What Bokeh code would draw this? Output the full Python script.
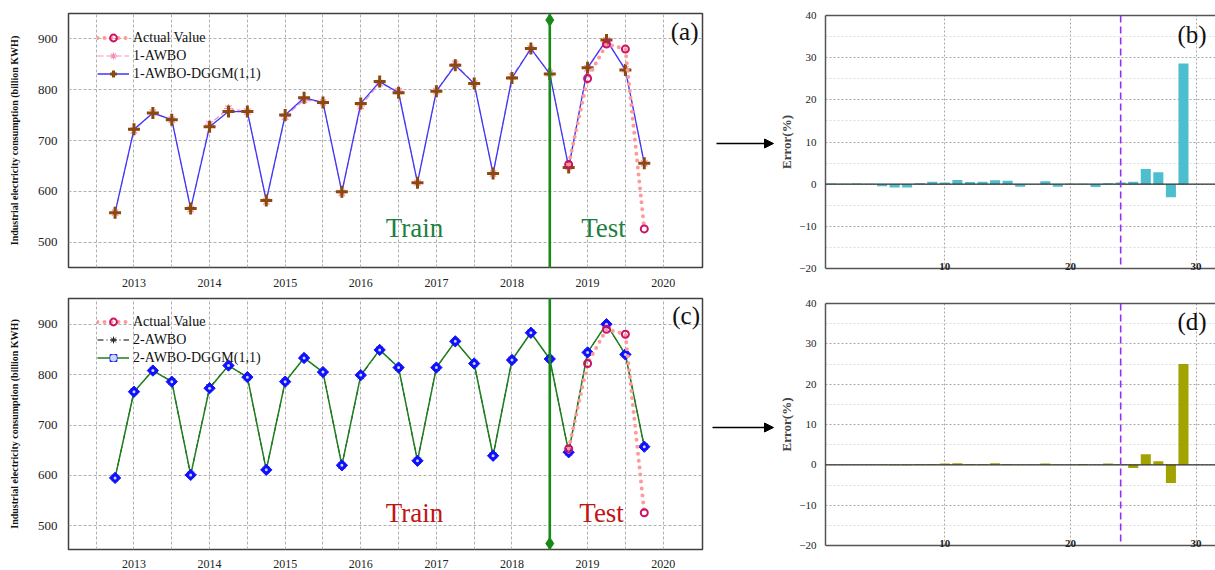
from bokeh.plotting import figure
from bokeh.models import (FixedTicker, Legend, LegendItem, Label, Arrow, NormalHead,
                          Span, LinearAxis, Range1d, BoxAnnotation)
from bokeh.layouts import row, column
from bokeh.embed import file_html
from bokeh.resources import INLINE

# ---------------- data ----------------
t = [2012.75, 2013.00, 2013.25, 2013.50, 2013.75, 2014.00, 2014.25, 2014.50,
     2014.75, 2015.00, 2015.25, 2015.50, 2015.75, 2016.00, 2016.25, 2016.50,
     2016.75, 2017.00, 2017.25, 2017.50, 2017.75, 2018.00, 2018.25, 2018.50,
     2018.75, 2019.00, 2019.25, 2019.50, 2019.75]
test_t = [2018.75, 2019.00, 2019.25, 2019.50, 2019.75]
actual_test = [653, 822, 890, 880, 526]

awbo1 = [558, 720, 755, 741, 565, 732, 763, 757, 580, 747, 780, 775, 597, 768, 813,
         797, 617, 797, 851, 812, 635, 826, 881, 832, 648, 842, 897, 840, 655]
dggm1 = [558, 722, 754, 741, 566, 727, 757, 757, 582, 750, 784, 775, 599, 773, 816,
         794, 617, 797, 848, 812, 635, 823, 881, 831, 647, 843, 898, 839, 655]
awbo2 = [595, 766, 809, 786, 601, 775, 818, 795, 611, 786, 833, 805, 620, 797, 849,
         814, 629, 814, 866, 822, 639, 829, 883, 831, 646, 844, 900, 840, 657]
dggm2 = [595, 766, 808, 786, 601, 773, 818, 795, 611, 786, 833, 805, 620, 799, 849,
         814, 629, 814, 866, 822, 639, 829, 883, 831, 646, 844, 900, 840, 657]

split_t = 2018.5
year_ticks = [2013, 2014, 2015, 2016, 2017, 2018, 2019, 2020]
halfyear_grid = [2012.5, 2013, 2013.5, 2014, 2014.5, 2015, 2015.5, 2016, 2016.5,
                 2017, 2017.5, 2018, 2018.5, 2019, 2019.5, 2020]
value_ticks = [500, 600, 700, 800, 900]

idx = [1, 2, 3, 4, 5, 6, 7, 8, 9, 10, 11, 12, 13, 14, 15, 16, 17, 18, 19, 20,
       21, 22, 23, 24, 25, 26, 27, 28, 29]
err1 = [0.15, 0.1, 0.15, 0.1, -0.5, -0.8, -0.8, 0.2, 0.6, 0.4, 1.0, 0.5, 0.6, 0.9, 0.8,
        -0.6, -0.1, 0.7, -0.6, 0.1, 0.1, -0.7, 0.2, 0.4, 0.6, 3.6, 2.8, -3.1, 28.6]
err2 = [0.1, 0.1, 0.1, 0.1, 0.1, -0.1, -0.1, 0.2, 0.2, 0.3, 0.4, 0.2, 0.2, 0.4, 0.2,
        0.1, 0.1, 0.3, 0.1, 0.1, 0.2, 0.1, 0.3, 0.2, -0.8, 2.6, 0.9, -4.5, 25.0]
split_idx = 24
err_ticks = [-20, -10, 0, 10, 20, 30, 40]
err_minor = [-15, -5, 5, 15, 25, 35]
idx_ticks = [10, 20, 30]

SERIF = "Liberation Serif"
GREEN = "#178a17"


def style_left(p, ylabel):
    p.outline_line_color = "#404040"
    p.outline_line_width = 1.5
    for ax in (p.xaxis, p.yaxis):
        ax.axis_line_color = None
        ax.major_tick_line_color = None
        ax.minor_tick_line_color = None
        ax.major_label_text_font = SERIF
        ax.major_label_text_color = "#222222"
    p.xaxis.ticker = FixedTicker(ticks=year_ticks)
    p.xaxis.major_label_text_font_size = "12px"
    p.xaxis.major_label_standoff = 5
    p.yaxis.ticker = FixedTicker(ticks=value_ticks)
    p.yaxis.major_label_text_font_size = "13px"
    p.yaxis.major_label_standoff = 5
    p.yaxis.axis_label = ylabel
    p.yaxis.axis_label_text_font = SERIF
    p.yaxis.axis_label_text_font_size = "10px"
    p.yaxis.axis_label_text_font_style = "bold"
    p.yaxis.axis_label_text_color = "#111111"
    p.yaxis.axis_label_standoff = 15
    p.xgrid.ticker = FixedTicker(ticks=halfyear_grid)
    p.ygrid.ticker = FixedTicker(ticks=value_ticks)
    for g in (p.xgrid, p.ygrid):
        g.grid_line_color = "#b0b0b0"
        g.grid_line_dash = "3 2"
        g.grid_line_width = 1


def txt(p, x, y, s, size, color):
    p.add_layout(Label(x=x, y=y, text=s, text_font=SERIF, text_font_size=size,
                       text_color=color, text_baseline="middle"))


YLAB = "Industrial electricity consumption (billion KWH)"
XR = (2012.134, 2020.52)

# ---------------- panel (a) ----------------
pa = figure(width=708, height=293, x_range=Range1d(*XR), y_range=Range1d(450, 950),
            output_backend="svg", toolbar_location=None,
            min_border_left=68, min_border_right=6, min_border_top=13, min_border_bottom=26)
style_left(pa, YLAB)

ra1 = pa.line(t, awbo1, line_color="#f590bb", line_dash="6 3", line_width=1.2)
ra2 = pa.scatter(t, awbo1, marker="asterisk", size=9, line_color="#f590bb", line_width=1.2)
rd1 = pa.line(t, dggm1, line_color="#3838ff", line_width=1.3)
rd2 = pa.scatter(t, dggm1, marker="cross", size=12, line_color="#8b4a0c", line_width=3)
rc1 = pa.line(test_t, actual_test, line_color="#ff9a9a", line_width=4, line_dash="0 7",
              line_cap="round")
rc2 = pa.scatter(test_t, actual_test, marker="circle", size=7, fill_color=None,
                 line_color="#cc1166", line_width=2)

pa.add_layout(Span(location=split_t, dimension="height", line_color=GREEN, line_width=2.6))
pa.scatter([split_t], [937], marker="diamond", size=12, fill_color=GREEN, line_color=GREEN)
pa.add_layout(BoxAnnotation(left=split_t - 0.017, right=split_t + 0.017, bottom=380, top=450,
                            fill_color=GREEN, fill_alpha=1, line_color=None))

leg_a = Legend(items=[LegendItem(label="Actual Value", renderers=[rc1, rc2]),
                      LegendItem(label="1-AWBO", renderers=[ra1, ra2]),
                      LegendItem(label="1-AWBO-DGGM(1,1)", renderers=[rd1, rd2])],
               location=(29, 185), glyph_width=32, glyph_height=17, label_height=17,
               spacing=1, padding=0, label_standoff=4, background_fill_alpha=0,
               border_line_color=None, label_text_font=SERIF, label_text_font_size="14px",
               label_text_color="#111111")
pa.add_layout(leg_a)

txt(pa, 2016.33, 528, "Train", "27px", "#1f7f3f")
txt(pa, 2018.915, 528, "Test", "27px", "#1f7f3f")
txt(pa, 2020.10, 915, "(a)", "25px", "#111111")

# ---------------- panel (c) ----------------
pc = figure(width=708, height=277, x_range=pa.x_range, y_range=Range1d(453, 951),
            output_backend="svg", toolbar_location=None,
            min_border_left=68, min_border_right=6, min_border_top=5, min_border_bottom=19)
style_left(pc, YLAB)
pc.xaxis.major_label_standoff = 4

rb1 = pc.line(t, awbo2, line_color="black", line_dash="6 3 1 3", line_width=1.0)
rb2 = pc.scatter(t, awbo2, marker="asterisk", size=9, line_color="#222222", line_width=1.0)
re1 = pc.line(t, dggm2, line_color="#1d7f1d", line_width=1.5)
re2 = pc.scatter(t, dggm2, marker="square", angle=0.785, size=8, fill_color="#1010ff",
                 line_color="#1010ff", line_width=1)
re3 = pc.scatter(t, dggm2, marker="circle", size=3, fill_color="#c8d8ff", line_color=None)
rf1 = pc.line(test_t, actual_test, line_color="#ff9a9a", line_width=4, line_dash="0 7",
              line_cap="round")
rf2 = pc.scatter(test_t, actual_test, marker="circle", size=7, fill_color=None,
                 line_color="#cc1166", line_width=2)

pc.add_layout(Span(location=split_t, dimension="height", line_color=GREEN, line_width=2.6))
pc.scatter([split_t], [465], marker="diamond", size=12, fill_color=GREEN, line_color=GREEN)
pc.add_layout(BoxAnnotation(left=split_t - 0.017, right=split_t + 0.017, bottom=951, top=1000,
                            fill_color=GREEN, fill_alpha=1, line_color=None))

leg_c = Legend(items=[LegendItem(label="Actual Value", renderers=[rf1, rf2]),
                      LegendItem(label="2-AWBO", renderers=[rb1, rb2]),
                      LegendItem(label="2-AWBO-DGGM(1,1)", renderers=[re1, re2, re3])],
               location=(29, 183), glyph_width=32, glyph_height=17, label_height=17,
               spacing=1, padding=0, label_standoff=4, background_fill_alpha=0,
               border_line_color=None, label_text_font=SERIF, label_text_font_size="14px",
               label_text_color="#111111")
pc.add_layout(leg_c)

txt(pc, 2016.33, 524.6, "Train", "27px", "#c01515")
txt(pc, 2018.89, 524.6, "Test", "27px", "#c01515")
txt(pc, 2020.12, 916.7, "(c)", "25px", "#111111")

# ---------------- middle arrows ----------------
pm = figure(width=68, height=570, x_range=Range1d(0, 68), y_range=Range1d(570, 0),
            x_axis_type=None, y_axis_type=None, output_backend="svg", toolbar_location=None,
            min_border=0, min_border_left=0, min_border_right=0, min_border_top=0,
            min_border_bottom=0)
pm.outline_line_color = None
pm.xgrid.visible = False
pm.ygrid.visible = False
for (xs, xe, yy) in [(8, 65, 143), (4, 65, 427)]:
    pm.add_layout(Arrow(end=NormalHead(size=9, fill_color="black", line_color="black"),
                        x_start=xs, y_start=yy, x_end=xe, y_end=yy,
                        line_color="black", line_width=1.3))


# ---------------- error panels ----------------
def err_panel(height, top, bottom, vals, color, tag):
    p = figure(width=439, height=height, x_range=Range1d(0.5, 31.55), y_range=Range1d(-20, 40),
               output_backend="svg", toolbar_location=None,
               min_border_left=40, min_border_right=0, min_border_top=top,
               min_border_bottom=bottom)
    p.outline_line_color = None
    p.vbar(x=idx, top=vals, width=0.8, fill_color=color, line_color=None)
    # left axis
    p.yaxis.ticker = FixedTicker(ticks=err_ticks)
    p.yaxis.major_tick_line_color = None
    p.yaxis.minor_tick_line_color = None
    p.yaxis.major_label_standoff = 3
    p.yaxis.major_label_text_font = SERIF
    p.yaxis.major_label_text_font_size = "11px"
    p.yaxis.major_label_text_color = "#222222"
    p.yaxis.axis_line_color = "#555555"
    p.yaxis.axis_line_width = 1.5
    p.yaxis.axis_label = "Error(%)"
    p.yaxis.axis_label_text_font = SERIF
    p.yaxis.axis_label_text_font_size = "13px"
    p.yaxis.axis_label_text_font_style = "bold"
    p.yaxis.axis_label_standoff = 2
    # bottom axis
    p.xaxis.ticker = FixedTicker(ticks=idx_ticks)
    p.xaxis.major_tick_line_color = None
    p.xaxis.minor_tick_line_color = None
    p.xaxis.major_label_standoff = -12
    p.xaxis.major_label_text_font = SERIF
    p.xaxis.major_label_text_font_size = "11px"
    p.xaxis.major_label_text_font_style = "bold"
    p.xaxis.major_label_text_color = "#222222"
    p.xaxis.axis_line_color = "#555555"
    p.xaxis.axis_line_width = 1.5
    # top border
    top_ax = LinearAxis(ticker=FixedTicker(ticks=[]), major_tick_line_color=None,
                        minor_tick_line_color=None, major_label_standoff=0,
                        major_tick_out=0, minor_tick_out=0,
                        axis_line_color="#555555", axis_line_width=1.5)
    p.add_layout(top_ax, "above")
    # grids
    p.xgrid.ticker = FixedTicker(ticks=idx_ticks)
    p.ygrid.ticker = FixedTicker(ticks=err_ticks, minor_ticks=err_minor)
    p.xgrid.grid_line_color = "#a8a8a8"
    p.xgrid.grid_line_dash = "2 2"
    p.ygrid.grid_line_color = "#a8a8a8"
    p.ygrid.grid_line_dash = "2 2"
    p.ygrid.minor_grid_line_color = "#dddddd"
    p.ygrid.minor_grid_line_dash = "2 2"
    p.add_layout(Span(location=0, dimension="width", line_color="#333333", line_width=1.3))
    p.add_layout(Span(location=split_idx, dimension="height", line_color="#9a2cf5",
                      line_width=1.6, line_dash="7 4"))
    p.add_layout(Label(x=28.52, y=35.5, text=tag, text_font=SERIF, text_font_size="25px",
                       text_color="#111111", text_baseline="middle"))
    return p


pb = err_panel(283, 15, 15, err1, "#4dbecd", "(b)")
pd = err_panel(287, 20, 25, err2, "#a2a200", "(d)")

layout = row(column(pa, pc), pm, column(pb, pd))
open("out.html", "w").write(file_html(layout, INLINE))
